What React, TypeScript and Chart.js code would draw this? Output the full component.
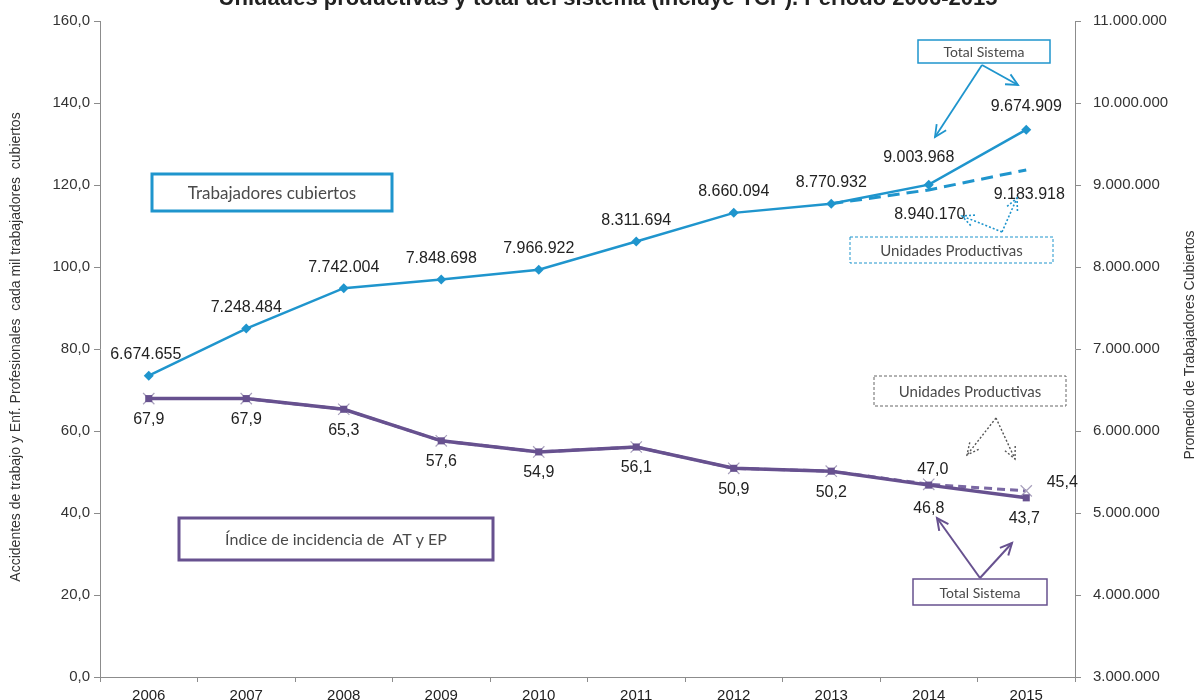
import React, { useEffect, useRef } from 'react';
import { Chart, registerables } from 'chart.js';

Chart.register(...registerables);

const years = ['2006', '2007', '2008', '2009', '2010', '2011', '2012', '2013', '2014', '2015'];
const trabajadoresTotal = [6674655, 7248484, 7742004, 7848698, 7966922, 8311694, 8660094, 8770932, 9003968, 9674909];
const trabajadoresUP = [null, null, null, null, null, null, null, 8770932, 8940170, 9183918];
const indiceTotal = [67.9, 67.9, 65.3, 57.6, 54.9, 56.1, 50.9, 50.2, 46.8, 43.7];
const indiceUP = [67.9, 67.9, 65.3, 57.6, 54.9, 56.1, 50.9, 50.2, 47.0, 45.4];

const TITLE = 'Unidades productivas y total del sistema (incluye TCP). Período 2006-2015';
const LEFT_TITLE = 'Accidentes de trabajo y Enf. Profesionales  cada mil trabajadores  cubiertos';
const RIGHT_TITLE = 'Promedio de Trabajadores Cubiertos';

const BLUE = '#1f95cd';
const PURPLE = '#67518f';
const GRAY_X = '#a9a1bd';
const AXIS = '#8c8c8c';
const FONT = '"Liberation Sans", Arial, sans-serif';
const ANN_FONT = 'Lato, "Open Sans", sans-serif';

const fmtMiles = (v: number) => Math.round(v).toString().replace(/\B(?=(\d{3})+(?!\d))/g, '.');
const fmtDec = (v: number) => v.toFixed(1).replace('.', ',');

const dataLabelPlugin = {
  id: 'dataLabels',
  afterDatasetsDraw(chart: any) {
    const ctx = chart.ctx;
    chart.data.datasets.forEach((ds: any, i: number) => {
      const cfg = ds.labelCfg;
      if (!cfg) return;
      const meta = chart.getDatasetMeta(i);
      meta.data.forEach((pt: any, j: number) => {
        const v = ds.data[j];
        if (v == null) return;
        if (cfg.only && !cfg.only.includes(j)) return;
        const off = (cfg.overrides && cfg.overrides[j]) || cfg.offset;
        ctx.save();
        ctx.font = `16px ${FONT}`;
        ctx.fillStyle = '#222';
        ctx.textAlign = 'center';
        ctx.textBaseline = 'middle';
        ctx.fillText(cfg.fmt(v), pt.x + off[0], pt.y + off[1]);
        ctx.restore();
      });
    });
  },
};

function drawArrow(ctx: CanvasRenderingContext2D, x1: number, y1: number, x2: number, y2: number, color: string, width: number, dash: number[] = []) {
  ctx.save();
  ctx.strokeStyle = color;
  ctx.lineWidth = width;
  ctx.setLineDash(dash);
  ctx.beginPath();
  ctx.moveTo(x1, y1);
  ctx.lineTo(x2, y2);
  ctx.stroke();
  const a = Math.atan2(y2 - y1, x2 - x1);
  const L = 13;
  const s = 0.45;
  ctx.beginPath();
  ctx.moveTo(x2 - L * Math.cos(a - s), y2 - L * Math.sin(a - s));
  ctx.lineTo(x2, y2);
  ctx.lineTo(x2 - L * Math.cos(a + s), y2 - L * Math.sin(a + s));
  ctx.stroke();
  ctx.restore();
}

function drawBox(ctx: CanvasRenderingContext2D, x1: number, y1: number, x2: number, y2: number, text: string, color: string, lw: number, size: number, dash: number[] = []) {
  ctx.save();
  ctx.fillStyle = '#fff';
  ctx.fillRect(x1, y1, x2 - x1, y2 - y1);
  ctx.strokeStyle = color;
  ctx.lineWidth = lw;
  ctx.setLineDash(dash);
  ctx.strokeRect(x1, y1, x2 - x1, y2 - y1);
  ctx.setLineDash([]);
  ctx.fillStyle = '#4a4a4a';
  ctx.font = `${size}px ${ANN_FONT}`;
  ctx.textAlign = 'center';
  ctx.textBaseline = 'middle';
  ctx.fillText(text, (x1 + x2) / 2, (y1 + y2) / 2 + 1);
  ctx.restore();
}

const annotationPlugin = {
  id: 'annotations',
  afterDraw(chart: any) {
    const ctx: CanvasRenderingContext2D = chart.ctx;
    // Title (partly outside the visible page, as in the reference)
    ctx.save();
    ctx.font = `bold 22px ${FONT}`;
    ctx.fillStyle = '#222';
    ctx.textAlign = 'center';
    ctx.textBaseline = 'alphabetic';
    ctx.fillText(TITLE, 608, 5);
    ctx.restore();

    // Axis titles
    ctx.save();
    ctx.font = `14px ${FONT}`;
    ctx.fillStyle = '#333';
    ctx.textAlign = 'center';
    ctx.textBaseline = 'middle';
    ctx.translate(16, 347);
    ctx.rotate(-Math.PI / 2);
    ctx.fillText(LEFT_TITLE, 0, 0);
    ctx.restore();
    ctx.save();
    ctx.font = `14px ${FONT}`;
    ctx.fillStyle = '#333';
    ctx.textAlign = 'center';
    ctx.textBaseline = 'middle';
    ctx.translate(1190, 345);
    ctx.rotate(-Math.PI / 2);
    ctx.fillText(RIGHT_TITLE, 0, 0);
    ctx.restore();

    // Arrows
    drawArrow(ctx, 982, 65, 935, 137, BLUE, 1.8);
    drawArrow(ctx, 982, 65, 1018, 85, BLUE, 1.8);
    drawArrow(ctx, 1002, 232, 962, 216, BLUE, 1.6, [2, 2]);
    drawArrow(ctx, 1002, 232, 1017, 198, BLUE, 1.6, [2, 2]);
    drawArrow(ctx, 996, 418, 967, 455, '#555', 1.4, [2, 2]);
    drawArrow(ctx, 996, 418, 1015, 459, '#555', 1.4, [2, 2]);
    drawArrow(ctx, 980, 578, 937, 518, PURPLE, 2);
    drawArrow(ctx, 980, 578, 1012, 543, PURPLE, 2);

    // Boxes
    drawBox(ctx, 152, 174, 392, 211, 'Trabajadores cubiertos', BLUE, 3, 17);
    drawBox(ctx, 179, 518, 493, 560, 'Índice de incidencia de  AT y EP', PURPLE, 3, 16);
    drawBox(ctx, 918, 40, 1050, 63, 'Total Sistema', BLUE, 1.5, 14);
    drawBox(ctx, 850, 237, 1053, 263, 'Unidades Productivas', BLUE, 1, 15, [3, 2]);
    drawBox(ctx, 874, 376, 1066, 406, 'Unidades Productivas', '#666', 1, 15, [3, 2]);
    drawBox(ctx, 913, 579, 1047, 605, 'Total Sistema', PURPLE, 1.5, 14);
  },
};

export default function App() {
  const ref = useRef<HTMLCanvasElement | null>(null);

  useEffect(() => {
    if (!ref.current) return;
    const chart = new Chart(ref.current, {
      type: 'line',
      data: {
        labels: years,
        datasets: [
          {
            label: 'Trabajadores cubiertos - Total Sistema',
            data: trabajadoresTotal,
            yAxisID: 'yR',
            borderColor: BLUE,
            backgroundColor: BLUE,
            borderWidth: 2.5,
            pointStyle: 'rectRot',
            pointRadius: 5,
            pointBorderWidth: 0,
            tension: 0,
            order: 1,
            labelCfg: {
              fmt: fmtMiles,
              offset: [0, -21],
              overrides: { 0: [-3, -21], 8: [-10, -27], 9: [0, -23] },
            },
          } as any,
          {
            label: 'Trabajadores cubiertos - Unidades Productivas',
            data: trabajadoresUP,
            yAxisID: 'yR',
            borderColor: BLUE,
            backgroundColor: BLUE,
            borderWidth: 3,
            borderDash: [12, 7],
            pointRadius: 0,
            tension: 0,
            order: 2,
            labelCfg: {
              fmt: fmtMiles,
              only: [8, 9],
              offset: [0, 25],
              overrides: { 8: [1, 25], 9: [3, 25] },
            },
          } as any,
          {
            label: 'Índice - Total Sistema',
            data: indiceTotal,
            yAxisID: 'yL',
            borderColor: PURPLE,
            backgroundColor: PURPLE,
            borderWidth: 3.5,
            pointStyle: 'rect',
            pointRadius: 5,
            pointBorderWidth: 0,
            tension: 0,
            order: 3,
            labelCfg: {
              fmt: fmtDec,
              offset: [0, 21],
              overrides: { 8: [0, 23], 9: [-2, 21] },
            },
          } as any,
          {
            label: 'Índice - Unidades Productivas',
            data: indiceUP,
            yAxisID: 'yL',
            borderColor: '#7a68a3',
            backgroundColor: GRAY_X,
            pointBorderColor: GRAY_X,
            borderWidth: 3,
            borderDash: [8, 5],
            pointStyle: 'crossRot',
            pointRadius: 8,
            pointBorderWidth: 1.2,
            tension: 0,
            order: 4,
            labelCfg: {
              fmt: fmtDec,
              only: [8, 9],
              offset: [0, -15],
              overrides: { 8: [4, -15], 9: [36, -8] },
            },
          } as any,
        ],
      },
      options: {
        animation: false,
        responsive: false,
        maintainAspectRatio: false,
        layout: { padding: { top: 18, bottom: 0, left: 0, right: 0 } },
        plugins: {
          legend: { display: false },
          tooltip: { enabled: false },
          title: { display: false },
        },
        scales: {
          x: {
            type: 'category',
            offset: true,
            grid: {
              display: true,
              drawOnChartArea: false,
              drawTicks: true,
              tickLength: 5,
              offset: true,
              color: AXIS,
            },
            border: { display: true, color: AXIS, width: 1 },
            ticks: { font: { size: 15, family: FONT }, color: '#222', padding: 5, maxRotation: 0 },
            afterFit: (s: any) => { s.height = 43; },
          },
          yL: {
            type: 'linear',
            position: 'left',
            min: 0,
            max: 160,
            ticks: {
              stepSize: 20,
              font: { size: 15, family: FONT },
              color: '#333',
              padding: 4,
              callback: (v: any) => fmtDec(Number(v)),
            },
            grid: { drawOnChartArea: false, drawTicks: true, tickLength: 6, color: AXIS },
            border: { display: true, color: AXIS, width: 1 },
            afterFit: (s: any) => { s.width = 100; },
          },
          yR: {
            type: 'linear',
            position: 'right',
            min: 3000000,
            max: 11000000,
            ticks: {
              stepSize: 1000000,
              font: { size: 15, family: FONT },
              color: '#333',
              padding: 12,
              callback: (v: any) => fmtMiles(Number(v)),
            },
            grid: { drawOnChartArea: false, drawTicks: true, tickLength: 6, color: AXIS },
            border: { display: true, color: AXIS, width: 1 },
            afterFit: (s: any) => { s.width = 125; },
          },
        },
      } as any,
      plugins: [dataLabelPlugin, annotationPlugin],
    });
    return () => chart.destroy();
  }, []);

  return (
    <div style={{ position: 'fixed', left: 0, top: 0, width: 1200, height: 700, overflow: 'hidden', background: '#fff' }}>
      <canvas ref={ref} width={1200} height={720} style={{ display: 'block', width: 1200, height: 720 }} />
    </div>
  );
}
